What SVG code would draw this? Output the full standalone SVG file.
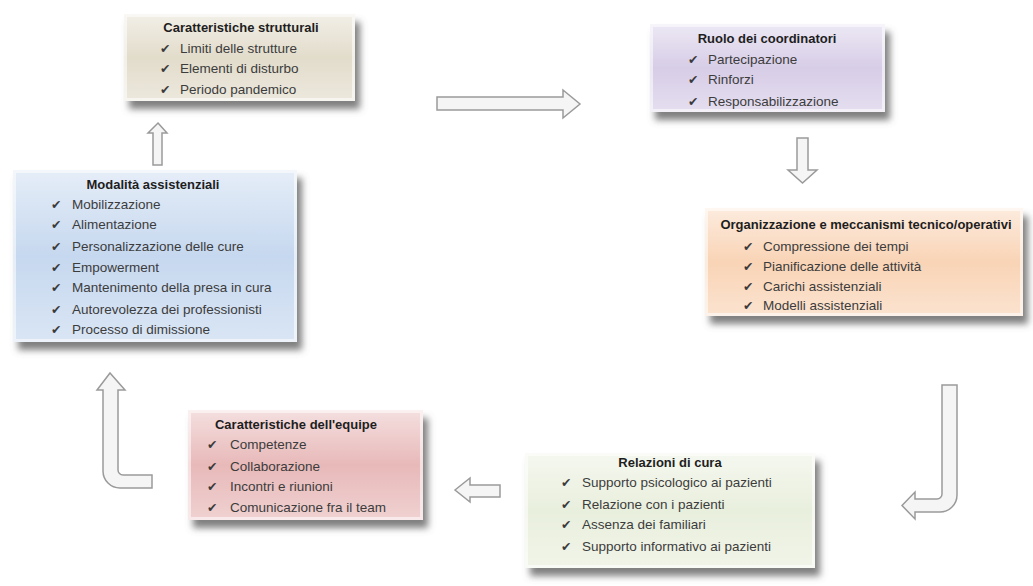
<svg xmlns="http://www.w3.org/2000/svg" width="1033" height="586" viewBox="0 0 1033 586">
<defs>
<filter id="sh" x="-10%" y="-15%" width="125%" height="145%">
<feGaussianBlur in="SourceAlpha" stdDeviation="3.5"/>
<feOffset dx="5" dy="8" result="b"/>
<feFlood flood-color="#6a6a6a" flood-opacity="0.85"/>
<feComposite in2="b" operator="in"/>
<feMerge><feMergeNode/><feMergeNode in="SourceGraphic"/></feMerge>
</filter>
<linearGradient id="bev" x1="0" y1="0" x2="0" y2="1">
<stop offset="0" stop-color="#fff" stop-opacity="0.55"/>
<stop offset="0.5" stop-color="#fff" stop-opacity="0"/>
<stop offset="1" stop-color="#fff" stop-opacity="0.35"/>
</linearGradient>
</defs>
<style>
.box{filter:url(#sh)}
.edge{fill:none;stroke:#fff;stroke-opacity:0.55;stroke-width:3}
.t{font-family:"Liberation Sans",Arial,sans-serif;font-size:13px;font-weight:bold;fill:#1e1e1e;text-anchor:middle}
.i{font-family:"Liberation Sans",Arial,sans-serif;font-size:13.5px;fill:#3c3c3c}
.c{font-family:"DejaVu Sans",sans-serif;font-size:12.5px;fill:#3a3a3a}
.ar{fill:#f5f5f5;stroke:#9a9a9a;stroke-width:1.5;stroke-linejoin:miter}
</style>
<rect width="1033" height="586" fill="#fff"/>

<g id="connectors">
<path class="ar" d="M437,97 H563 V90 L580,104 L563,118 V110 H437 Z"/>
<path class="ar" d="M797,138 H808 V170 H817 L802.5,183 L788,170 H797 Z"/>
<path class="ar" d="M158,123 L167,133 H162 V165 H153 V133 H148 Z"/>
<path class="ar" d="M455,490 L470,478 V485 H500 V497 H470 V502 Z"/>
<path class="ar" d="M110,373 L125,390 H118 V470 A5,5 0 0 0 123,475 H152 V488 H120 A17,17 0 0 1 103,471 V390 H97 Z"/>
<path class="ar" d="M942,385 H957 V495 A17,17 0 0 1 940,512 H915 V519 L902,505.5 L915,492 V499 H937 A5,5 0 0 0 942,494 Z"/>
</g>

<g id="strutturali">
<rect class="box" x="124" y="14" width="231" height="87" fill="#e2dccb"/>
<rect x="124" y="14" width="231" height="87" fill="url(#bev)"/>
<rect class="edge" x="125.5" y="15.5" width="228" height="84"/>
<text class="t" x="241" y="32">Caratteristiche strutturali</text>
<text class="c" x="160" y="53">✔</text><text class="i" x="180" y="53">Limiti delle strutture</text>
<text class="c" x="160" y="73">✔</text><text class="i" x="180" y="73">Elementi di disturbo</text>
<text class="c" x="160" y="94">✔</text><text class="i" x="180" y="94">Periodo pandemico</text>
</g>

<g id="coordinatori">
<rect class="box" x="650" y="24" width="235" height="88" fill="#d7cde7"/>
<rect x="650" y="24" width="235" height="88" fill="url(#bev)"/>
<rect class="edge" x="651.5" y="25.5" width="232" height="85"/>
<text class="t" x="767" y="43">Ruolo dei coordinatori</text>
<text class="c" x="688" y="64">✔</text><text class="i" x="708" y="64">Partecipazione</text>
<text class="c" x="688" y="84">✔</text><text class="i" x="708" y="84">Rinforzi</text>
<text class="c" x="688" y="106">✔</text><text class="i" x="708" y="106">Responsabilizzazione</text>
</g>

<g id="organizzazione">
<rect class="box" x="705" y="208" width="318" height="108" fill="#f9d4b6"/>
<rect x="705" y="208" width="318" height="108" fill="url(#bev)"/>
<rect class="edge" x="706.5" y="209.5" width="315" height="105"/>
<text class="t" x="866" y="229">Organizzazione e meccanismi tecnico/operativi</text>
<text class="c" x="743" y="251">✔</text><text class="i" x="763" y="251">Compressione dei tempi</text>
<text class="c" x="743" y="271">✔</text><text class="i" x="763" y="271">Pianificazione delle attività</text>
<text class="c" x="743" y="291">✔</text><text class="i" x="763" y="291">Carichi assistenziali</text>
<text class="c" x="743" y="310">✔</text><text class="i" x="763" y="310">Modelli assistenziali</text>
</g>

<g id="modalita">
<rect class="box" x="13" y="170" width="284" height="172" fill="#c6d8ef"/>
<rect x="13" y="170" width="284" height="172" fill="url(#bev)"/>
<rect class="edge" x="14.5" y="171.5" width="281" height="169"/>
<text class="t" x="153" y="189">Modalità assistenziali</text>
<text class="c" x="51" y="209">✔</text><text class="i" x="72" y="209">Mobilizzazione</text>
<text class="c" x="51" y="229">✔</text><text class="i" x="72" y="229">Alimentazione</text>
<text class="c" x="51" y="251">✔</text><text class="i" x="72" y="251">Personalizzazione delle cure</text>
<text class="c" x="51" y="272">✔</text><text class="i" x="72" y="272">Empowerment</text>
<text class="c" x="51" y="292">✔</text><text class="i" x="72" y="292">Mantenimento della presa in cura</text>
<text class="c" x="51" y="314">✔</text><text class="i" x="72" y="314">Autorevolezza dei professionisti</text>
<text class="c" x="51" y="334">✔</text><text class="i" x="72" y="334">Processo di dimissione</text>
</g>

<g id="equipe">
<rect class="box" x="188" y="410" width="235" height="110" fill="#e8b9b9"/>
<rect x="188" y="410" width="235" height="110" fill="url(#bev)"/>
<rect class="edge" x="189.5" y="411.5" width="232" height="107"/>
<text class="t" x="296" y="429">Caratteristiche dell'equipe</text>
<text class="c" x="207" y="449">✔</text><text class="i" x="230" y="449">Competenze</text>
<text class="c" x="207" y="471">✔</text><text class="i" x="230" y="471">Collaborazione</text>
<text class="c" x="207" y="491">✔</text><text class="i" x="230" y="491">Incontri e riunioni</text>
<text class="c" x="207" y="512">✔</text><text class="i" x="230" y="512">Comunicazione fra il team</text>
</g>

<g id="relazioni">
<rect class="box" x="525" y="453" width="290" height="115" fill="#e9efdd"/>
<rect x="525" y="453" width="290" height="115" fill="url(#bev)"/>
<rect class="edge" x="526.5" y="454.5" width="287" height="112"/>
<text class="t" x="670" y="467">Relazioni di cura</text>
<text class="c" x="561" y="487">✔</text><text class="i" x="582" y="487">Supporto psicologico ai pazienti</text>
<text class="c" x="561" y="509">✔</text><text class="i" x="582" y="509">Relazione con i pazienti</text>
<text class="c" x="561" y="529">✔</text><text class="i" x="582" y="529">Assenza dei familiari</text>
<text class="c" x="561" y="551">✔</text><text class="i" x="582" y="551">Supporto informativo ai pazienti</text>
</g>
</svg>
